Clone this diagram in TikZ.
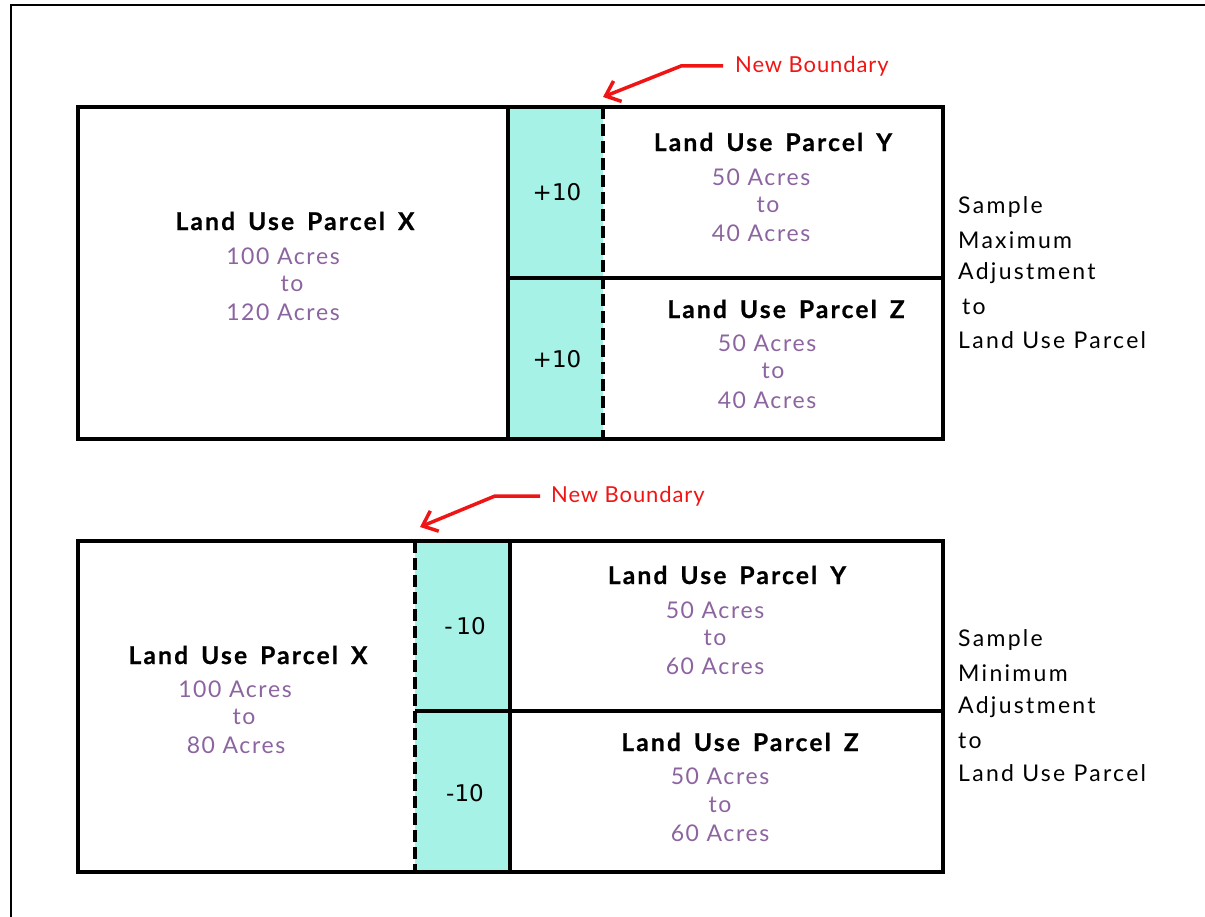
\documentclass[tikz,border=0pt]{standalone}
\usepackage{fontspec}
\setmainfont{Lato}
\newfontfamily\tfont[LetterSpace=9, WordSpace=1.6, BoldFeatures={FakeBold=0.8}]{Lato}
\newfontfamily\afont[LetterSpace=7]{Lato}
\newfontfamily\sfont[LetterSpace=10]{Lato}
\newfontfamily\nfont[LetterSpace=4]{Lato}
\newfontfamily\numfont{DejaVu Sans}
\usetikzlibrary{arrows.meta}
\definecolor{cy}{HTML}{A6F2E6}
\definecolor{pu}{HTML}{8C64A0}
\definecolor{rd}{HTML}{F01515}
\begin{document}
\begin{tikzpicture}[x=1pt,y=-1pt,
  box/.style={line width=3.5pt},
  bline/.style={line width=3.8pt, dash pattern=on 12pt off 5pt},
  title/.style={inner sep=0pt, font=\tfont\bfseries\fontsize{24.5}{27}\selectfont},
  acre/.style={inner sep=0pt, text=pu, font=\afont\fontsize{23}{26}\selectfont},
  side/.style={inner sep=0pt, anchor=west, font=\sfont\fontsize{23}{26}\selectfont},
  num/.style={inner sep=0pt, font=\numfont\fontsize{23}{26}\selectfont},
  nb/.style={inner sep=0pt, anchor=west, text=rd, font=\nfont\fontsize{22}{25}\selectfont},
  redarrow/.style={draw=rd, line width=3.5pt, -{Straight Barb[length=13pt,width=22pt]}}]
\useasboundingbox (0,0) rectangle (1205,917);
\draw[line width=1.3pt] (11,930) -- (11,5) -- (1220,5);

% ---------- top diagram ----------
\fill[cy] (508,107) rectangle (603,439);
\draw[box] (78,107) rectangle (943,439);
\draw[box] (508,107) -- (508,439);
\draw[box] (508,278) -- (943,278);
\draw[bline] (603,107) -- (603,439);

\node[title] (x1) at (295,221) {Land Use Parcel X};
\node[acre] (x1a) at (283,256) {100 Acres};
\node[acre] (x1b) at (292,284) {to};
\node[acre] (x1c) at (283,312) {120 Acres};

\node[num] (p1) at (557,192) {+10};
\node[num] (p2) at (557,359) {+10};

\node[title] (y1) at (773,142) {Land Use Parcel Y};
\node[acre] (y1a) at (761,177) {50 Acres};
\node[acre] (y1b) at (768,205) {to};
\node[acre] (y1c) at (761,233) {40 Acres};

\node[title] (z1) at (786,309) {Land Use Parcel Z};
\node[acre] (z1a) at (767,343) {50 Acres};
\node[acre] (z1b) at (773,371) {to};
\node[acre] (z1c) at (767,400) {40 Acres};

\node[side] (s1) at (958,207) {Sample};
\node[side] (s2) at (958,240) {Maximum};
\node[side] (s3) at (958,273) {Adjustment};
\node[side] (s4) at (962,307) {to};
\node[side] (s5) at (958,340) {Land Use Parcel};

\node[nb] (nb1) at (735,66) {New Boundary};
\coordinate (t1) at (603,97);
\draw[redarrow] ([xshift=-12pt]nb1.west) -- ++(-42,0) -- (t1);

% ---------- bottom diagram ----------
\fill[cy] (415,541) rectangle (510,872);
\draw[box] (78,541) rectangle (943,872);
\draw[box] (510,541) -- (510,872);
\draw[box] (415,711) -- (943,711);
\draw[bline] (415,541) -- (415,872);

\node[title] (x2) at (248,655) {Land Use Parcel X};
\node[acre] (x2a) at (235,689) {100 Acres};
\node[acre] (x2b) at (244,717) {to};
\node[acre] (x2c) at (236,745) {80 Acres};

\node[num] (m1) at (465,626) {-\,10};
\node[num] (m2) at (465,793) {-10};

\node[title] (y2) at (727,575) {Land Use Parcel Y};
\node[acre] (y2a) at (715,610) {50 Acres};
\node[acre] (y2b) at (715,638) {to};
\node[acre] (y2c) at (715,666) {60 Acres};

\node[title] (z2) at (740,742) {Land Use Parcel Z};
\node[acre] (z2a) at (720,776) {50 Acres};
\node[acre] (z2b) at (720,805) {to};
\node[acre] (z2c) at (720,833) {60 Acres};

\node[side] (r1) at (958,640) {Sample};
\node[side] (r2) at (958,673) {Minimum};
\node[side] (r3) at (958,707) {Adjustment};
\node[side] (r4) at (958,741) {to};
\node[side] (r5) at (958,773) {Land Use Parcel};

\node[nb] (nb2) at (551,496) {New Boundary};
\coordinate (t2) at (420,527);
\draw[redarrow] ([xshift=-11pt]nb2.west) -- ++(-45,0) -- (t2);
\end{tikzpicture}
\end{document}
